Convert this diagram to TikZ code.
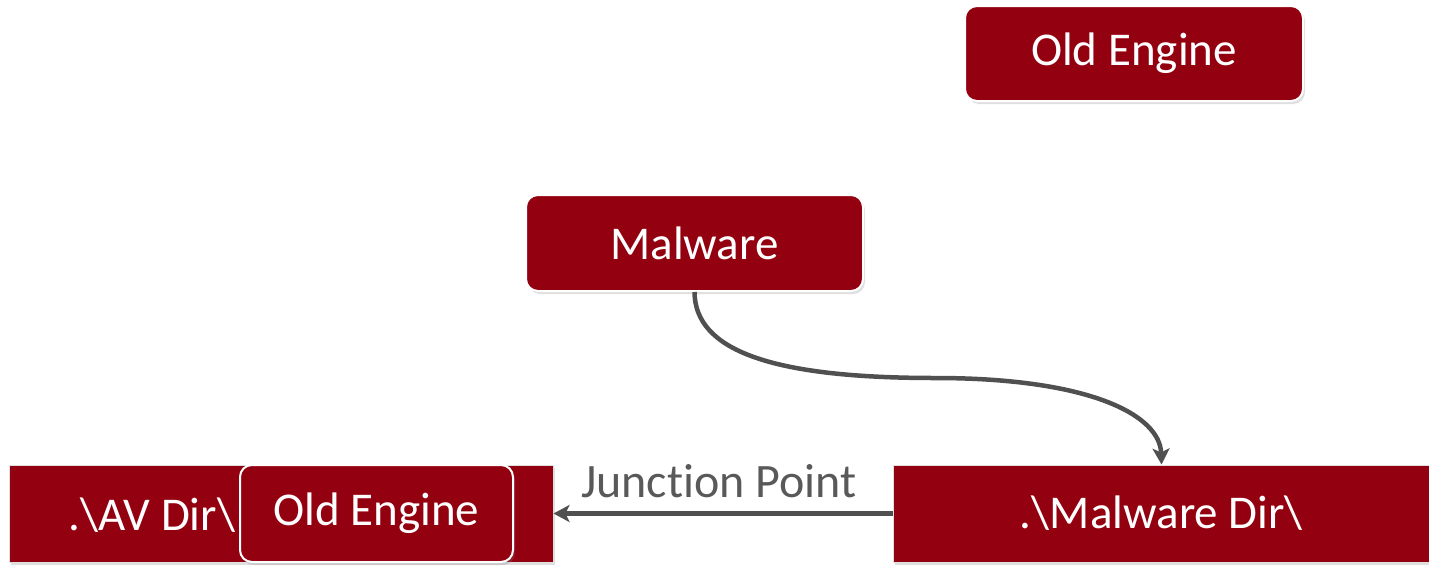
\documentclass[tikz,border=0pt]{standalone}
\usepackage{fontspec}
\setmainfont[Ligatures=NoCommon]{Carlito}
\usetikzlibrary{arrows.meta,shadows}
\definecolor{boxred}{HTML}{93000F}
\definecolor{linkgray}{HTML}{505050}
\definecolor{labelgray}{HTML}{595959}
\tikzset{
  boxfont/.style={font=\fontsize{47}{54}\selectfont},
  boxbase/.style={fill=boxred, text=white, boxfont,
    inner sep=0pt, drop shadow={shadow xshift=2pt, shadow yshift=-3pt, opacity=0.25}},
  roundbox/.style={boxbase, draw=white, line width=2pt, rounded corners=12pt},
  dirbox/.style={boxbase, draw=gray!25, line width=1pt},
  link/.style={draw=linkgray, line width=4.5pt,
    -{Stealth[length=16pt,width=17pt,inset=4pt]}},
}
\begin{document}
\begin{tikzpicture}[x=1pt,y=-1pt]
  \useasboundingbox (0,0) rectangle (1429,565);

  % top engine box
  \node[roundbox, minimum width=338pt, minimum height=95pt] (oldtop) at (1134,53.5) {Old Engine};

  % malware box
  \node[roundbox, minimum width=337pt, minimum height=96pt] (malware) at (694.5,243) {Malware};

  % directory boxes
  \node[dirbox, minimum width=544pt, minimum height=97pt] (avdir) at (281,513.5) {};
  \node[text=white, boxfont, inner sep=0pt] (avtext) at (152,515) {.\textbackslash AV Dir\textbackslash};
  \node[roundbox, minimum width=273pt, minimum height=97pt] (oldin) at (376.5,513.5) {Old Engine};
  \node[dirbox, minimum width=537pt, minimum height=97pt] (mdir) at (1161.5,513.5) {.\textbackslash Malware Dir\textbackslash};

  % junction link
  \draw[link] (mdir.west) -- (avdir.east);
  \node[text=labelgray, font=\fontsize{48}{54}\selectfont, inner sep=0pt] (jp) at (719,481) {Junction Point};

  % malware drops into its directory
  \coordinate (mid) at (935,378);
  \draw[link] (malware.south) .. controls (695,350) and (770,378) .. (mid)
    .. controls (1090,378) and (1160,415) .. (mdir.north);
\end{tikzpicture}
\end{document}
